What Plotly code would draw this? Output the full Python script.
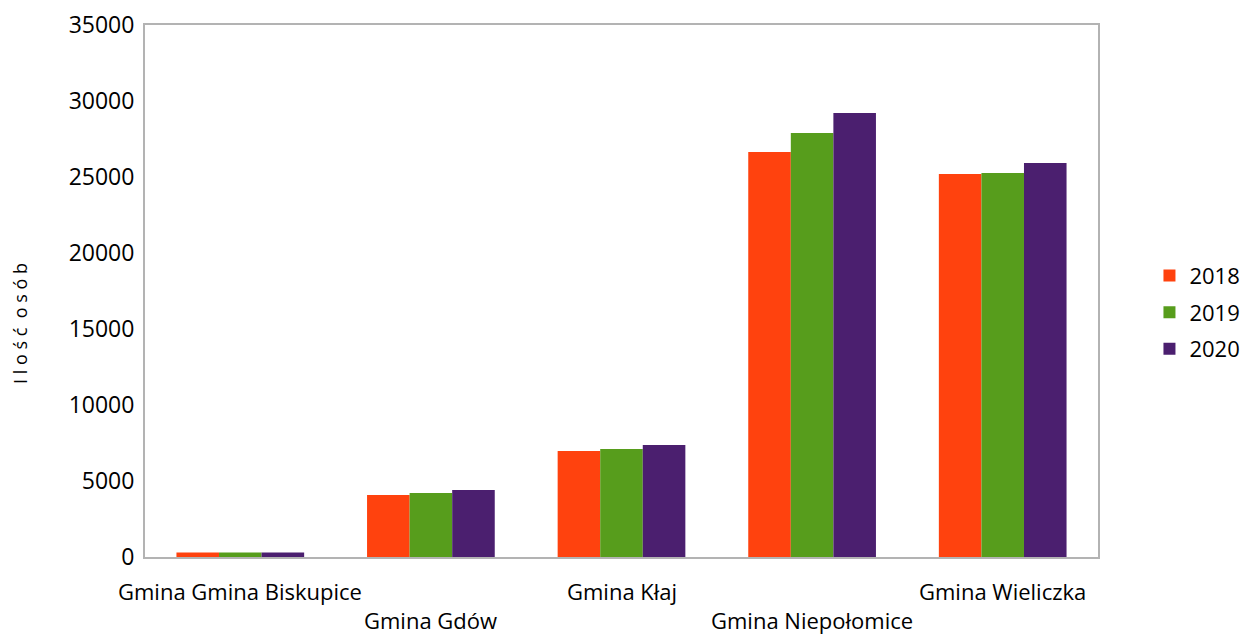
import plotly.graph_objects as go

# Liczba osób w gminach, lata 2018-2020
categories = ["Gmina Gmina Biskupice", "Gmina Gdów", "Gmina Kłaj",
              "Gmina Niepołomice", "Gmina Wieliczka"]
years = ["2018", "2019", "2020"]
values_2018 = [300, 4080, 6970, 26650, 25200]
values_2019 = [300, 4210, 7100, 27900, 25260]
values_2020 = [300, 4410, 7370, 29210, 25920]
y_ticks = [0, 5000, 10000, 15000, 20000, 25000, 30000, 35000]
y_tick_labels = [str(v) for v in y_ticks]

series = [values_2018, values_2019, values_2020]
colors = ["#ff420e", "#579d1c", "#4b1f6f"]
FONT = "Open Sans"

fig = go.Figure()
for name, vals, col in zip(years, series, colors):
    fig.add_trace(go.Bar(x=categories, y=vals, name=name, legendgroup=name,
                         marker=dict(color=col, line=dict(width=0))))

# staggered category labels (two rows)
annotations = []
for i, cat in enumerate(categories):
    annotations.append(dict(x=i, xref="x", y=0, yref="paper",
                            yanchor="top", showarrow=False, text=cat,
                            yshift=-18 if i % 2 == 0 else -47,
                            borderpad=0,
                            font=dict(family=FONT, size=22, color="#000")))

# axis title
annotations.append(dict(x=0, xref="paper", y=(557 - 324) / 532, yref="paper",
                        xshift=-125, xanchor="center", yanchor="middle",
                        showarrow=False, textangle=-90,
                        text="I l o ś ć  o s ó b",
                        font=dict(family=FONT, size=18, color="#000")))

fig.update_layout(
    width=1246, height=635,
    margin=dict(l=145, r=148, t=25, b=78, autoexpand=False),
    plot_bgcolor="white", paper_bgcolor="white",
    barmode="group", bargap=0.33, bargroupgap=0,
    font=dict(family=FONT, size=20, color="#000"),
    xaxis=dict(type="category", range=[-0.5, len(categories) - 0.5],
               showticklabels=False, showline=True, linecolor="#b3b3b3",
               linewidth=2, mirror=True, ticks="", showgrid=False),
    yaxis=dict(range=[0, 35000], tickvals=y_ticks, ticktext=y_tick_labels,
               showgrid=False, showline=True, linecolor="#b3b3b3",
               linewidth=2, mirror=True, ticks="", zeroline=False,
               ticklabelstandoff=4,
               tickfont=dict(family=FONT, size=23, color="#000")),
    legend=dict(x=1.054, xanchor="left", y=0.46, yanchor="middle",
                font=dict(family=FONT, size=22, color="#000"),
                tracegroupgap=5, traceorder="grouped", itemwidth=30),
    annotations=annotations,
)

fig.write_html("out.html")
